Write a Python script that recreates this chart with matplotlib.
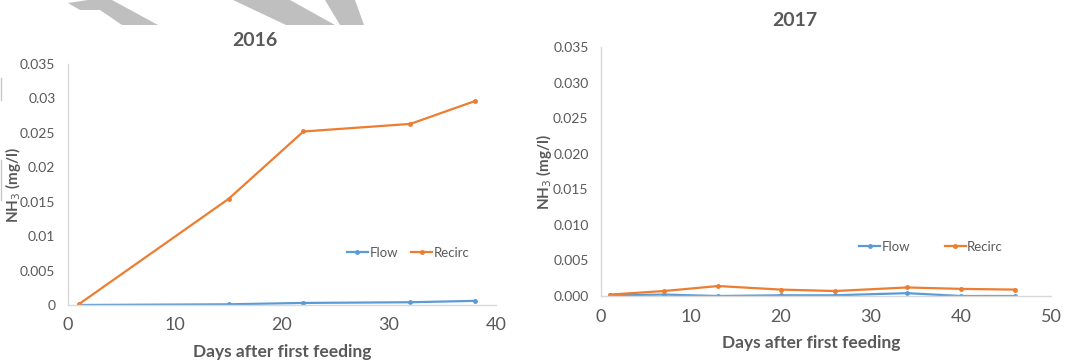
import matplotlib.pyplot as plt
from matplotlib.patches import Polygon
from matplotlib.ticker import FormatStrFormatter, FuncFormatter

plt.rcParams['font.family'] = ['Lato', 'DejaVu Sans']

days_2016 = [1, 15, 22, 32, 38]
flow_2016 = [0.0000, 0.0001, 0.0003, 0.0004, 0.0006]
recirc_2016 = [0.0001, 0.0154, 0.0252, 0.0263, 0.0296]

days_2017 = [1, 7, 13, 20, 26, 34, 40, 46]
flow_2017 = [0.0001, 0.0002, 0.0000, 0.0001, 0.0001, 0.0004, 0.0000, 0.0000]
recirc_2017 = [0.0002, 0.0007, 0.0014, 0.0009, 0.0007, 0.0012, 0.0010, 0.0009]

BLUE = '#5B9BD5'
ORANGE = '#ED7D31'
TXT = '#595959'
GRID = '#D9D9D9'

W, H = 1074, 361
fig = plt.figure(figsize=(W / 100, H / 100), dpi=100)


def px(x, y):
    return x / W, 1 - y / H


# grey watermark pieces along the top edge
wm = [
    [(68, 3), (88, 0), (112, 0), (158, 25), (122, 25), (100, 10), (80, 10)],
    [(233, 0), (290, 0), (335, 25), (286, 25)],
    [(325, 0), (355, 0), (364, 25), (340, 25)],
]
for pts in wm:
    fig.patches.append(Polygon([px(*p) for p in pts], closed=True,
                               transform=fig.transFigure, color='#BFBFBF', lw=0))
for y0, y1 in [(78, 100), (160, 200)]:
    fig.add_artist(plt.Line2D([0.5 / W, 0.5 / W], [1 - y0 / H, 1 - y1 / H],
                              transform=fig.transFigure, color='#C8C8C8', lw=1))


def style(ax, xmax):
    for s in ['top', 'right']:
        ax.spines[s].set_visible(False)
    for s in ['left', 'bottom']:
        ax.spines[s].set_color(GRID)
        ax.spines[s].set_linewidth(1)
    ax.tick_params(length=0, colors=TXT, labelsize=10)
    ax.tick_params(axis='y', pad=9)
    ax.tick_params(axis='x', labelsize=13, pad=9)
    ax.set_xlim(0, xmax)
    ax.set_ylim(0, 0.035)
    ax.set_yticks([i * 0.005 for i in range(8)])


leg_kw = dict(loc='center', bbox_transform=fig.transFigure, ncol=2, frameon=False,
              fontsize=9.5, labelcolor=TXT, handlelength=1.6, handletextpad=0.1)

ax1 = fig.add_axes([68 / W, 1 - 305 / H, (496 - 68) / W, (305 - 64) / H])
ax1.plot(days_2016, flow_2016, color=BLUE, lw=1.6, marker='o', ms=2.5, label='Flow')
ax1.plot(days_2016, recirc_2016, color=ORANGE, lw=1.6, marker='o', ms=2.5, label='Recirc')
style(ax1, 40)
ax1.set_xticks(range(0, 41, 10))
ax1.yaxis.set_major_formatter(FuncFormatter(lambda v, p: ('%.3f' % v).rstrip('0').rstrip('.')))
ax1.legend(bbox_to_anchor=(408 / W, 1 - 253 / H), columnspacing=1.0, **leg_kw)

ax2 = fig.add_axes([601 / W, 1 - 296 / H, (1051 - 601) / W, (296 - 47) / H])
ax2.plot(days_2017, flow_2017, color=BLUE, lw=1.6, marker='o', ms=2.5, label='Flow')
ax2.plot(days_2017, recirc_2017, color=ORANGE, lw=1.6, marker='o', ms=2.5, label='Recirc')
style(ax2, 50)
ax2.set_xticks(range(0, 51, 10))
ax2.yaxis.set_major_formatter(FormatStrFormatter('%.3f'))
ax2.legend(bbox_to_anchor=(931 / W, 1 - 247 / H), columnspacing=2.6, **leg_kw)

fig.text(*px(255, 41), '2016', ha='center', va='center', fontsize=14, weight='bold', color=TXT)
fig.text(*px(795, 21), '2017', ha='center', va='center', fontsize=14, weight='bold', color=TXT)
fig.text(*px(282, 352), 'Days after first feeding', ha='center', va='center', fontsize=12.5,
         weight='bold', color=TXT)
fig.text(*px(811, 343), 'Days after first feeding', ha='center', va='center', fontsize=12.5,
         weight='bold', color=TXT)
fig.text(*px(13, 185), r'NH$_3$ (mg/l)', ha='center', va='center', rotation=90, fontsize=11,
         weight='bold', color=TXT)
fig.text(*px(544, 172), r'NH$_3$ (mg/l)', ha='center', va='center', rotation=90, fontsize=11,
         weight='bold', color=TXT)

fig.savefig('out.png', dpi=100)
